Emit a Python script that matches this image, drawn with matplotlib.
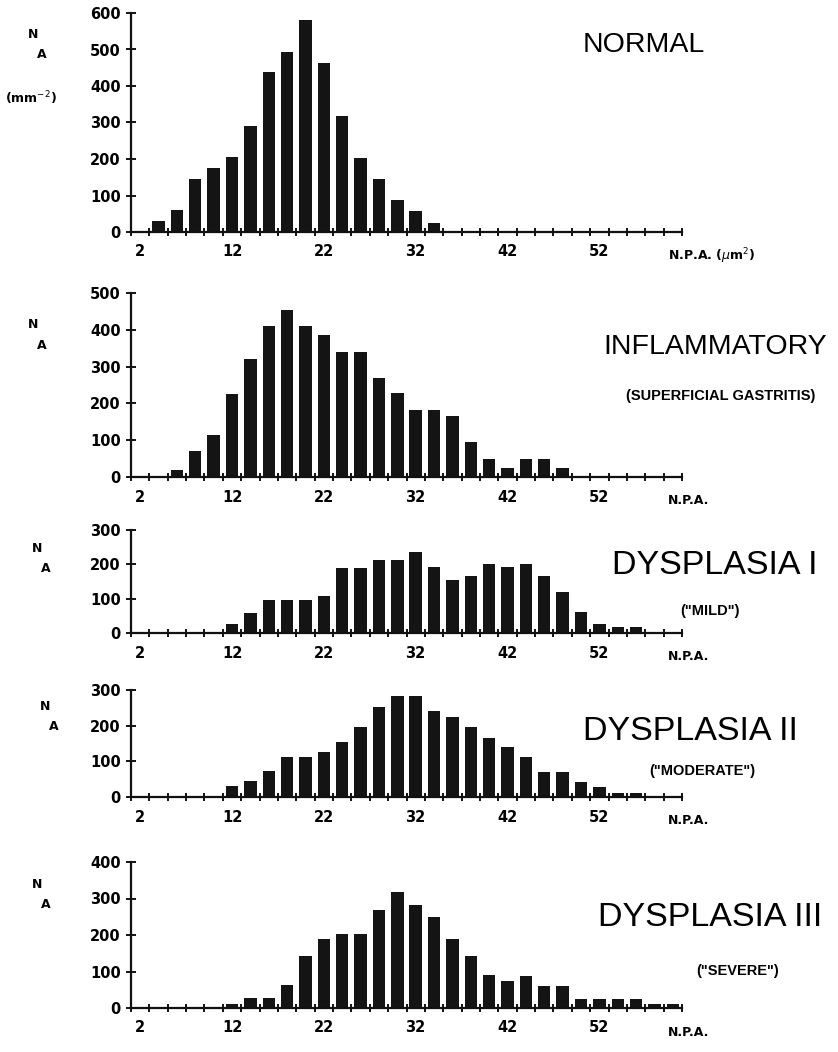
import matplotlib
matplotlib.use("Agg")
import matplotlib.pyplot as plt
from matplotlib.ticker import FixedLocator, NullFormatter

# === DATA (bin centres = nuclear profile area, um^2) ===
bins = list(range(2, 62, 2))

normal = [0, 30, 60, 145, 175, 205, 290, 438, 492, 580, 462, 318, 202, 145, 88, 58, 25,
          0, 0, 0, 0, 0, 0, 0, 0, 0, 0, 0, 0, 0]
inflammatory = [0, 0, 20, 70, 115, 225, 320, 410, 455, 410, 385, 340, 340, 270, 228, 183,
                183, 165, 95, 50, 25, 50, 50, 25, 0, 0, 0, 0, 0, 0]
dysplasia1 = [0, 0, 0, 0, 0, 27, 58, 95, 95, 95, 107, 190, 190, 213, 213, 235, 192, 155,
              167, 202, 192, 202, 167, 120, 60, 27, 17, 17, 0, 0]
dysplasia2 = [0, 0, 0, 0, 0, 30, 45, 72, 112, 112, 127, 155, 195, 253, 282, 282, 240, 225,
              195, 165, 140, 112, 70, 70, 42, 28, 12, 12, 0, 0]
dysplasia3 = [0, 0, 0, 0, 0, 12, 28, 28, 63, 143, 188, 203, 203, 268, 318, 283, 250, 188,
              142, 90, 75, 88, 60, 60, 25, 25, 25, 25, 10, 10]

series = [normal, inflammatory, dysplasia1, dysplasia2, dysplasia3]
y_max = [600, 500, 300, 300, 400]
titles = ["NORMAL", "INFLAMMATORY", "DYSPLASIA I", "DYSPLASIA II", "DYSPLASIA III"]
subtitles = ["", "(SUPERFICIAL GASTRITIS)", "(\"MILD\")", "(\"MODERATE\")", "(\"SEVERE\")"]
x_labels = [2, 12, 22, 32, 42, 52]

W, H = 838, 1052
# panel boxes in pixels: (y of zero line, y of top tick)
panel_px = [(232, 13), (477, 293), (633, 530), (797, 690), (1008, 862)]
title_px = [(644, 45), (715, 347), (715, 565), (690, 731), (710, 918)]
title_size = [20.5, 20.5, 24.5, 24.5, 24.5]
sub_px = [None, (721, 396), (710, 611), (702, 771), (738, 971)]
na_px = [(33, 35), (33, 325), (37, 548), (45, 707), (37, 885)]

TITLE_FONT = ["Liberation Sans", "DejaVu Sans"]


def fx(x):
    return x / W


def fy(y):
    return 1 - y / H


def main():
    fig = plt.figure(figsize=(W / 100, H / 100), dpi=100)
    fig.patch.set_facecolor("white")

    for i, vals in enumerate(series):
        y0, y1 = panel_px[i]
        ax = fig.add_axes([fx(131), fy(y0), (682 - 131) / W, (y0 - y1) / H])
        ax.bar(bins, vals, width=1.35, color="#141414", zorder=2)
        ax.set_xlim(1, 61)
        ax.set_ylim(0, y_max[i])

        for side in ("top", "right"):
            ax.spines[side].set_visible(False)
        for side in ("left", "bottom"):
            ax.spines[side].set_linewidth(1.6)
            ax.spines[side].set_color("#111111")

        # tick marks on odd values, labels between them
        ax.xaxis.set_major_locator(FixedLocator(list(range(1, 62, 2))))
        ax.xaxis.set_major_formatter(NullFormatter())
        ax.xaxis.set_minor_locator(FixedLocator(x_labels))
        ax.set_xticklabels([str(v) for v in x_labels], minor=True)
        ax.tick_params(axis="x", which="major", direction="inout", length=6, width=1.3)
        ax.tick_params(axis="x", which="minor", length=0, pad=9, labelsize=10.5)
        ax.set_yticks(list(range(0, y_max[i] + 1, 100)))
        ax.tick_params(axis="y", direction="inout", length=7, width=1.3, pad=4, labelsize=10.5)
        for lab in ax.get_xticklabels(minor=True) + ax.get_yticklabels():
            lab.set_fontweight("bold")

        # N_A label
        nx, ny = na_px[i]
        fig.text(fx(nx), fy(ny), "N", fontsize=9, fontweight="bold", ha="center", va="center")
        fig.text(fx(nx + 9), fy(ny + 20), "A", fontsize=9, fontweight="bold", ha="center", va="center")

        # x label
        xl = "N.P.A. ($\\mu$m$^{2}$)" if i == 0 else "N.P.A."
        fig.text(fx(668), fy(y0 + 24), xl, fontsize=9, fontweight="bold", ha="left", va="center")

        tx, ty = title_px[i]
        fig.text(fx(tx), fy(ty), titles[i], family=TITLE_FONT, fontsize=title_size[i],
                 ha="center", va="center")
        if sub_px[i] is not None:
            sx, sy = sub_px[i]
            fig.text(fx(sx), fy(sy), subtitles[i], family=TITLE_FONT, fontsize=10.5,
                     fontweight="bold", ha="center", va="center")

    fig.text(fx(5), fy(98), "(mm$^{-2}$)", fontsize=9, fontweight="bold", ha="left", va="center")

    fig.savefig("out.png", dpi=100, facecolor="white")


if __name__ == "__main__":
    main()
